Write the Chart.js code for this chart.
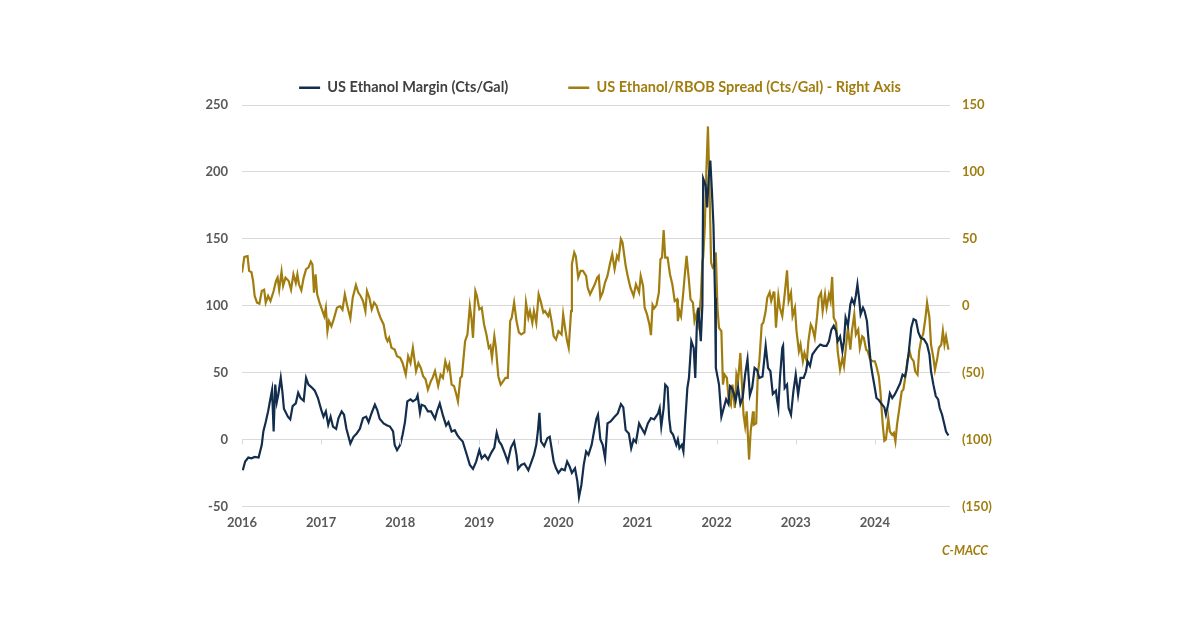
<!DOCTYPE html>
<html>
<head>
<meta charset="utf-8">
<script src="https://cdn.jsdelivr.net/npm/chart.js@4.4.1/dist/chart.umd.min.js"></script>
<style>
  html, body { margin: 0; padding: 0; background: #ffffff; }
  #wrap { width: 1200px; height: 627px; }
</style>
</head>
<body>
<div id="wrap"><canvas id="c" width="1200" height="627"></canvas></div>
<script>
// ---- Data (decimal years) ----
const yearTicks = [2016, 2017, 2018, 2019, 2020, 2021, 2022, 2023, 2024];

const marginDates = [2016.01,2016.04,2016.08,2016.12,2016.16,2016.21,2016.25,2016.27,2016.30,2016.33,2016.37,2016.38,2016.40,2016.42,2016.44,2016.46,2016.49,2016.51,2016.53,2016.58,2016.61,2016.64,2016.68,2016.71,2016.74,2016.78,2016.81,2016.84,2016.88,2016.92,2016.96,2017.00,2017.03,2017.06,2017.09,2017.12,2017.15,2017.19,2017.22,2017.26,2017.29,2017.32,2017.37,2017.41,2017.45,2017.49,2017.53,2017.57,2017.60,2017.64,2017.68,2017.71,2017.74,2017.79,2017.83,2017.87,2017.91,2017.93,2017.96,2018.00,2018.03,2018.06,2018.09,2018.13,2018.16,2018.20,2018.22,2018.25,2018.27,2018.31,2018.35,2018.39,2018.44,2018.47,2018.50,2018.54,2018.58,2018.61,2018.65,2018.69,2018.72,2018.75,2018.79,2018.84,2018.88,2018.92,2018.96,2019.00,2019.03,2019.07,2019.11,2019.15,2019.19,2019.22,2019.25,2019.28,2019.32,2019.36,2019.40,2019.44,2019.47,2019.49,2019.53,2019.57,2019.62,2019.66,2019.69,2019.72,2019.74,2019.76,2019.78,2019.82,2019.86,2019.89,2019.92,2019.94,2019.97,2020.00,2020.04,2020.08,2020.11,2020.14,2020.17,2020.21,2020.24,2020.26,2020.29,2020.32,2020.35,2020.38,2020.42,2020.45,2020.48,2020.50,2020.53,2020.56,2020.59,2020.62,2020.66,2020.71,2020.75,2020.79,2020.82,2020.85,2020.89,2020.92,2020.95,2020.98,2021.02,2021.04,2021.09,2021.13,2021.17,2021.21,2021.26,2021.28,2021.30,2021.33,2021.35,2021.38,2021.40,2021.42,2021.45,2021.49,2021.51,2021.53,2021.56,2021.58,2021.60,2021.63,2021.65,2021.68,2021.71,2021.73,2021.75,2021.77,2021.80,2021.82,2021.83,2021.86,2021.88,2021.90,2021.92,2021.94,2021.96,2021.98,2021.99,2022.03,2022.06,2022.09,2022.12,2022.15,2022.17,2022.19,2022.22,2022.24,2022.27,2022.30,2022.33,2022.36,2022.39,2022.42,2022.45,2022.48,2022.51,2022.54,2022.58,2022.62,2022.65,2022.68,2022.71,2022.75,2022.76,2022.78,2022.80,2022.83,2022.84,2022.86,2022.89,2022.91,2022.94,2022.97,2023.00,2023.03,2023.06,2023.10,2023.13,2023.15,2023.18,2023.21,2023.24,2023.27,2023.31,2023.35,2023.39,2023.42,2023.45,2023.48,2023.51,2023.53,2023.56,2023.59,2023.61,2023.63,2023.66,2023.69,2023.71,2023.74,2023.76,2023.78,2023.80,2023.82,2023.85,2023.87,2023.90,2023.92,2023.95,2023.97,2024.00,2024.02,2024.05,2024.08,2024.12,2024.14,2024.17,2024.19,2024.22,2024.25,2024.28,2024.32,2024.35,2024.38,2024.40,2024.43,2024.46,2024.49,2024.52,2024.55,2024.58,2024.62,2024.66,2024.69,2024.71,2024.74,2024.77,2024.80,2024.82,2024.85,2024.88,2024.90,2024.93];
const marginValues = [-23,-16.5,-13.5,-14,-13,-13.5,-4,6,13,21,34,37,6,41,28,34,46,36,23,17,15,25,27,35,31,29,46,41,39,36.5,31,22.5,17,21,11,17,9.7,8,16,21,18.5,8,-3,2,4.5,8,16,17,13,20,26,22,15.5,12,10.7,9.7,6,-4,-8,-4,3.5,13,28.5,30,28.5,30,33,20,26,25,21,21,15.5,22,27,18,10.5,13,6,7,3.5,1,-1.5,-11,-19,-22,-16.5,-8,-14,-11.5,-15,-10,-6,5,-1.5,-4,-10,-16.5,-6,-1.5,-11.5,-22,-19,-18,-23,-16.5,-11.5,-4,6,20,-1.5,-5,1,2,-9,-16.5,-21.5,-25,-22,-23,-16.5,-20,-25,-21.5,-31.5,-43,-34,-19,-9,-11.5,-4,6,15.5,18.5,0,-4,-14,12,13.5,17,19.5,26.5,24,7,4.5,-6.5,0,-2,12,9.7,4.5,12,16,15,19.5,23.5,9.7,23.5,41,39,16,6,3.5,-4,0,-6.5,-4,-9,11,38.5,46,73.5,68.5,46,86,98.5,73.5,101,195,190,173.5,196,208.5,186,160,106,53.5,41,17,23.5,30,26.5,40,39,34,29,39,26.5,31.5,48.5,60,33,39,53.5,52,46,47,70,53.5,51,34,36.5,31,23.5,46,68.5,70,38.5,41,23.5,18.5,36,48.5,33.5,46,46,51,58.5,55,63.5,66,68.5,71,70,70,73.5,82,85,81,73.5,77,66,73.5,91,85,101,105,101,107.5,116,106,93.5,98.5,96,88.5,75,56,48.5,38.5,31,29.5,27,24,18.5,27,34.5,31,33.5,37,42,48.5,47,52,66,83.5,90,89,80,76,75,71,63.5,51,41,32.5,30,23.5,18.5,11,6,3];

const spreadDates = [2016.00,2016.03,2016.07,2016.09,2016.12,2016.14,2016.16,2016.19,2016.22,2016.25,2016.28,2016.30,2016.33,2016.36,2016.40,2016.43,2016.45,2016.47,2016.50,2016.52,2016.55,2016.59,2016.62,2016.65,2016.68,2016.70,2016.72,2016.75,2016.78,2016.81,2016.84,2016.87,2016.89,2016.91,2016.93,2016.95,2016.98,2017.01,2017.04,2017.06,2017.08,2017.10,2017.13,2017.16,2017.20,2017.24,2017.27,2017.30,2017.33,2017.37,2017.40,2017.44,2017.47,2017.50,2017.53,2017.56,2017.58,2017.61,2017.64,2017.67,2017.70,2017.72,2017.75,2017.79,2017.82,2017.84,2017.86,2017.89,2017.93,2017.96,2018.00,2018.03,2018.07,2018.10,2018.13,2018.16,2018.20,2018.23,2018.26,2018.29,2018.32,2018.35,2018.39,2018.41,2018.44,2018.48,2018.51,2018.54,2018.57,2018.60,2018.62,2018.65,2018.68,2018.71,2018.73,2018.76,2018.78,2018.82,2018.85,2018.88,2018.90,2018.92,2018.95,2018.97,2019.00,2019.03,2019.06,2019.09,2019.12,2019.14,2019.16,2019.19,2019.21,2019.24,2019.27,2019.30,2019.33,2019.36,2019.39,2019.41,2019.44,2019.47,2019.50,2019.53,2019.57,2019.59,2019.62,2019.64,2019.67,2019.69,2019.72,2019.75,2019.78,2019.81,2019.83,2019.87,2019.89,2019.92,2019.94,2019.97,2020.00,2020.04,2020.06,2020.09,2020.11,2020.13,2020.16,2020.17,2020.20,2020.22,2020.25,2020.28,2020.31,2020.35,2020.37,2020.40,2020.42,2020.46,2020.49,2020.51,2020.53,2020.56,2020.59,2020.62,2020.65,2020.68,2020.71,2020.74,2020.76,2020.79,2020.81,2020.85,2020.88,2020.91,2020.95,2020.98,2021.02,2021.04,2021.07,2021.09,2021.12,2021.15,2021.17,2021.19,2021.21,2021.24,2021.27,2021.29,2021.31,2021.33,2021.35,2021.38,2021.41,2021.44,2021.47,2021.50,2021.51,2021.53,2021.55,2021.58,2021.60,2021.62,2021.65,2021.67,2021.70,2021.72,2021.75,2021.77,2021.80,2021.82,2021.83,2021.85,2021.87,2021.89,2021.91,2021.93,2021.95,2021.97,2021.99,2022.01,2022.03,2022.06,2022.08,2022.10,2022.13,2022.15,2022.18,2022.20,2022.23,2022.25,2022.27,2022.30,2022.32,2022.34,2022.36,2022.38,2022.41,2022.43,2022.46,2022.47,2022.50,2022.52,2022.54,2022.57,2022.59,2022.62,2022.64,2022.67,2022.69,2022.72,2022.73,2022.75,2022.78,2022.80,2022.83,2022.86,2022.89,2022.91,2022.94,2022.96,2022.99,2023.01,2023.04,2023.06,2023.09,2023.11,2023.14,2023.16,2023.19,2023.21,2023.24,2023.27,2023.29,2023.32,2023.34,2023.37,2023.39,2023.42,2023.44,2023.46,2023.48,2023.51,2023.53,2023.56,2023.59,2023.61,2023.64,2023.66,2023.69,2023.71,2023.74,2023.76,2023.79,2023.81,2023.84,2023.86,2023.89,2023.91,2023.94,2023.97,2024.00,2024.02,2024.05,2024.07,2024.10,2024.12,2024.14,2024.17,2024.19,2024.22,2024.24,2024.26,2024.28,2024.31,2024.34,2024.36,2024.39,2024.41,2024.44,2024.46,2024.49,2024.51,2024.54,2024.56,2024.59,2024.61,2024.64,2024.66,2024.69,2024.71,2024.74,2024.76,2024.79,2024.81,2024.84,2024.86,2024.88,2024.90,2024.93];
const spreadValues = [24.8,36.5,37,26,25,18.5,7.3,2.3,1.5,11,12,2.3,7.3,3.5,11,18.5,21,12,25.5,14.8,21,18.5,12,23.5,17,23.5,16,11.5,21,27.3,28.5,33,31,9.8,23.5,8.5,2.3,-2.7,-7.8,-1.5,-19,-11.5,-15.3,-10,-1.5,-0.3,-3,8.5,0,-9.5,6,15.5,9.8,7.3,3.5,-4,11,6,-2.7,2.3,0,-4,-9,-14,-24,-26.5,-24,-31.5,-32.8,-37.8,-39,-42.8,-51.5,-37.8,-42.8,-31.5,-49,-42.8,-46.5,-52.7,-55,-62.7,-56,-53.8,-48.8,-60,-51.5,-54,-41.5,-47.8,-44,-59,-60,-66.5,-71.5,-54,-52.7,-26.5,-21.5,-0.3,-9,-24,11,7.3,-2.7,-1.5,-14,-21.5,-31.5,-30,-39,-22.8,-31.5,-52.7,-59,-56.5,-54,-54,-11.5,-9,2.3,-11.5,-20,-21.5,-20,2.3,-9,-4,-12.8,-4,-12.8,8.5,2.3,-5.2,-4,-7.8,-4,-14,-22.8,-25.3,-19,-21.5,-6.5,-19,-26.5,-31.5,-4,31,39.8,37,21,26,26,22.3,13.5,8.5,11,16,21,22.3,6,10,17.5,22.3,31,38.5,27.3,37.3,34.8,49.8,47.3,29.8,21,13.5,7.3,16,10,22.3,14.8,-1.5,-6.5,-14,-22,0.5,-2,0.5,10,34.8,36,56.5,36,36,23.5,16,3.5,4.8,-11.5,-4,-7.8,11,24.8,37.3,18.5,4.8,2.3,-11.5,-5.2,-12.8,6,33.5,36,58.5,99.8,134,88.5,32.3,28.5,29.8,39.8,-1.5,-16.5,-19,-59,-51.5,-54,-69,-74,-59,-76.5,-51.5,-56.5,-35.3,-59,-81.5,-90,-79,-115,-94,-79,-89,-88,-51.5,-41.5,-14,-12.8,-4,6,10,3.5,10,9.8,-16.5,7.3,-1.5,-7.8,8.5,26.5,3.5,9.8,-7.8,-1.5,-19,-34,-29,-41.5,-35.3,-41.5,-26.5,-14,-16.5,-24,-7.8,6,9.8,-4,8.5,-1.5,8.5,3.5,21.5,-9,-12.8,-34,-47.7,-39,-45.2,-27.8,-16.5,-32.8,-19,-6.5,-21.5,-17.8,-31.5,-22.8,-24,-32.8,-34,-40.3,-41.5,-41.5,-45.2,-52.7,-64,-89,-101,-100,-84,-94,-96.5,-95,-101.5,-89,-76.5,-64,-62.8,-51.5,-41.5,-34,-39,-41.5,-49,-51.5,-34,-24,-21.5,-9,2.3,-9,-29,-39,-48,-39,-31.5,-29,-19,-29,-22.8,-32.8];

const marginLabel = 'US Ethanol Margin (Cts/Gal)';
const spreadLabel = 'US Ethanol/RBOB Spread (Cts/Gal) - Right Axis';

// ---- Styles ----
const NAVY = '#132d4c';
const GOLD = '#a17d0f';
const GREY_TXT = '#595959';
const GRID = '#d9d9d9';
const FONT = 'Lato, "Open Sans", sans-serif';

const toPoints = (xs, ys) => xs.map((x, i) => ({ x: x, y: ys[i] }));

const zeroTicks = {
  id: 'zeroTicks',
  afterDatasetsDraw(chart) {
    const { ctx, scales } = chart;
    const y0 = scales.y.getPixelForValue(0);
    ctx.save();
    ctx.strokeStyle = GRID;
    ctx.lineWidth = 1;
    yearTicks.forEach(yr => {
      const px = Math.round(scales.x.getPixelForValue(yr)) + 0.5;
      ctx.beginPath();
      ctx.moveTo(px, y0);
      ctx.lineTo(px, y0 + 5);
      ctx.stroke();
    });
    ctx.restore();
  }
};

const sourceNote = {
  id: 'sourceNote',
  afterDraw(chart) {
    const { ctx } = chart;
    ctx.save();
    ctx.font = 'italic bold 12.5px ' + FONT;
    ctx.fillStyle = GOLD;
    ctx.textAlign = 'right';
    ctx.textBaseline = 'middle';
    ctx.fillText('C-MACC', 988, 551);
    ctx.restore();
  }
};

new Chart(document.getElementById('c'), {
  type: 'line',
  data: {
    datasets: [
      {
        label: marginLabel,
        data: toPoints(marginDates, marginValues),
        borderColor: NAVY,
        backgroundColor: NAVY,
        borderWidth: 2.2,
        pointRadius: 0,
        tension: 0,
        yAxisID: 'y'
      },
      {
        label: spreadLabel,
        data: toPoints(spreadDates, spreadValues),
        borderColor: GOLD,
        backgroundColor: GOLD,
        borderWidth: 2.2,
        pointRadius: 0,
        tension: 0,
        yAxisID: 'y2'
      }
    ]
  },
  options: {
    responsive: false,
    animation: false,
    devicePixelRatio: 1,
    layout: { padding: { top: 20.5, bottom: 87, left: 0, right: 0 } },
    plugins: {
      tooltip: { enabled: false },
      legend: {
        position: 'top',
        labels: {
          font: { family: FONT, size: 14.5, weight: 'bold' },
          boxWidth: 21,
          boxHeight: 2.5,
          padding: 60,
          generateLabels(chart) {
            return chart.data.datasets.map((ds, i) => ({
              text: ds.label,
              fillStyle: ds.borderColor,
              strokeStyle: ds.borderColor,
              lineWidth: 0,
              fontColor: i === 0 ? '#404040' : GOLD,
              datasetIndex: i,
              hidden: false
            }));
          }
        }
      }
    },
    scales: {
      x: {
        type: 'linear',
        min: 2016,
        max: 2024.95,
        grid: { display: false, drawTicks: false },
        border: { display: false },
        ticks: {
          stepSize: 1,
          includeBounds: false,
          padding: 9,
          maxRotation: 0,
          color: GREY_TXT,
          font: { family: FONT, size: 13, weight: 'bold' },
          callback: v => String(v)
        }
      },
      y: {
        position: 'left',
        min: -50,
        max: 250,
        afterFit(scale) { scale.width = 242; },
        grid: { color: GRID, lineWidth: 1, drawTicks: false },
        border: { display: false },
        ticks: {
          stepSize: 50,
          padding: 14,
          color: GREY_TXT,
          font: { family: FONT, size: 13, weight: 'bold' }
        }
      },
      y2: {
        position: 'right',
        min: -150,
        max: 150,
        afterFit(scale) { scale.width = 250; },
        grid: { display: false, drawTicks: false },
        border: { display: false },
        ticks: {
          stepSize: 50,
          padding: 12,
          color: GOLD,
          font: { family: FONT, size: 13, weight: 'bold' },
          callback: v => (v < 0 ? '(' + Math.abs(v) + ')' : String(v))
        }
      }
    }
  },
  plugins: [zeroTicks, sourceNote]
});
</script>
</body>
</html>
